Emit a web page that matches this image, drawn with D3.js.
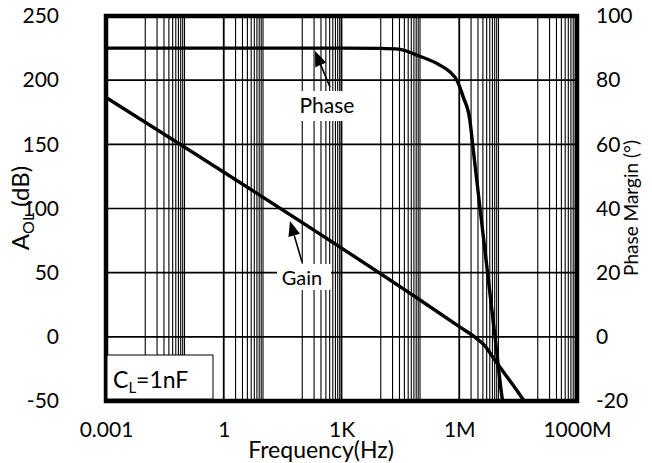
<!DOCTYPE html>
<html>
<head>
<meta charset="utf-8">
<script src="https://cdn.jsdelivr.net/npm/d3@7/dist/d3.min.js"></script>
<style>
  html, body { margin: 0; padding: 0; background: #fff; }
  text { font-family: Lato, "Open Sans", sans-serif; fill: #000; }
</style>
</head>
<body>
<svg id="chart" width="652" height="463"></svg>
<script>
// ---- data ----
const gainFreq = [0.001, 1e5, 1e6, 2.75e6, 4.5e6, 7.4e6, 4.3e7, 4.7e7];
const gainDb   = [186.5, 28.7, 8.0, -1.2, -7.0, -16.5, -49.2, -51];

const phaseFreq = [0.001, 1, 1000, 10000, 31000, 83000, 320000, 575000, 870000,
                   1.26e6, 1.86e6, 2.28e6, 3.38e6, 5.53e6, 8.15e6, 1.26e7, 1.35e7];
const phaseDeg  = [90, 90, 90, 89.9, 89.6, 87.8, 84.7, 82.6, 80,
                   74.8, 67.6, 58.2, 40.1, 17.7, 0, -19.7, -22];

const xTickValues = [0.001, 1, 1e3, 1e6, 1e9];
const xTickLabels = ["0.001", "1", "1K", "1M", "1000M"];
const leftTicks  = [-50, 0, 50, 100, 150, 200, 250];
const rightTicks = [-20, 0, 20, 40, 60, 80, 100];
const decadeExps = [-3, -2, -1, 0, 1, 2, 3, 4, 5, 6, 7, 8, 9];
const denseDecades = [-2, 0, 2, 4, 6, 8];

// ---- layout ----
const L = 106, R = 577, T = 16, B = 401;
const svg = d3.select("#chart");
const x = d3.scaleLog().domain([0.001, 1e9]).range([L, R]);
const yL = d3.scaleLinear().domain([-50, 250]).range([B, T]);
const yR = d3.scaleLinear().domain([-20, 100]).range([B, T]);

svg.append("rect").attr("width", 652).attr("height", 463).attr("fill", "#fff");

// grid: vertical
const vLines = [];
decadeExps.forEach(n => {
  const v = Math.pow(10, n);
  vLines.push({v: v, major: xTickValues.some(t => Math.abs(Math.log10(t) - n) < 1e-9)});
  if (denseDecades.includes(n)) {
    for (let k = 2; k <= 9; k++) vLines.push({v: k * v, major: false});
  }
});
const grid = svg.append("g");
grid.selectAll("line.v").data(vLines).enter().append("line")
  .attr("x1", d => x(d.v)).attr("x2", d => x(d.v))
  .attr("y1", T).attr("y2", B)
  .attr("stroke", "#000").attr("stroke-width", d => d.major ? 1.8 : 1.1);
grid.selectAll("line.h").data(leftTicks).enter().append("line")
  .attr("x1", L).attr("x2", R)
  .attr("y1", d => yL(d)).attr("y2", d => yL(d))
  .attr("stroke", "#000").attr("stroke-width", 1.6);

// label boxes (white) covering grid
svg.append("rect").attr("x", 297).attr("y", 91).attr("width", 60).attr("height", 30).attr("fill", "#fff");
svg.append("rect").attr("x", 277).attr("y", 264).attr("width", 54).attr("height", 26).attr("fill", "#fff");

// curves
svg.append("clipPath").attr("id", "plotclip")
  .append("rect").attr("x", L).attr("y", T).attr("width", R - L).attr("height", B - T);

const gainPts = gainFreq.map((f, i) => [x(f), yL(gainDb[i])]);
const phasePts = phaseFreq.map((f, i) => [x(f), yR(phaseDeg[i])]);
const line = d3.line().curve(d3.curveMonotoneX);
const curves = svg.append("g").attr("clip-path", "url(#plotclip)");
curves.append("path").attr("d", line(gainPts)).attr("fill", "none")
  .attr("stroke", "#000").attr("stroke-width", 3.4).attr("stroke-linejoin", "round");
curves.append("path").attr("d", line(phasePts)).attr("fill", "none")
  .attr("stroke", "#000").attr("stroke-width", 3.4).attr("stroke-linejoin", "round");

// border
svg.append("rect").attr("x", L).attr("y", T).attr("width", R - L).attr("height", B - T)
  .attr("fill", "none").attr("stroke", "#000").attr("stroke-width", 4.5);

// arrows
function arrow(x1, y1, x2, y2) {
  const ang = Math.atan2(y2 - y1, x2 - x1);
  const len = 15, w = 6;
  const bx = x2 - len * Math.cos(ang), by = y2 - len * Math.sin(ang);
  svg.append("line").attr("x1", x1).attr("y1", y1).attr("x2", bx).attr("y2", by)
    .attr("stroke", "#000").attr("stroke-width", 1.6);
  const px = -Math.sin(ang) * w, py = Math.cos(ang) * w;
  svg.append("path")
    .attr("d", `M${x2},${y2}L${bx + px},${by + py}L${bx - px},${by - py}Z`)
    .attr("fill", "#000");
}
arrow(330, 87, 315, 51);
arrow(302, 262, 290, 221);

// annotation texts
svg.append("text").attr("x", 327).attr("y", 113).attr("text-anchor", "middle")
  .attr("font-size", 21).text("Phase");
svg.append("text").attr("x", 302).attr("y", 285).attr("text-anchor", "middle")
  .attr("font-size", 20).text("Gain");

// C_L box
svg.append("rect").attr("x", 107).attr("y", 355).attr("width", 106).attr("height", 44)
  .attr("fill", "#fff").attr("stroke", "#000").attr("stroke-width", 1);
const cl = svg.append("text").attr("x", 113).attr("y", 388).attr("font-size", 23);
cl.append("tspan").text("C");
cl.append("tspan").attr("font-size", 15).attr("dy", 5).text("L");
cl.append("tspan").attr("dy", -5).text("=1nF");

// axes tick labels
const fmt = d => String(d);
const xAxis = d3.axisBottom(x).tickValues(xTickValues)
  .tickFormat((d, i) => xTickLabels[i]).tickSize(0).tickPadding(0);
const gx = svg.append("g").attr("transform", `translate(0,${B})`).call(xAxis);
gx.select(".domain").remove();
gx.selectAll("text").attr("font-size", 21).attr("font-family", "Lato")
  .attr("fill", "#000").attr("dy", null).attr("y", 36);

const gl = svg.append("g").attr("transform", `translate(59,0)`)
  .call(d3.axisLeft(yL).tickValues(leftTicks).tickFormat(fmt).tickSize(0).tickPadding(0));
gl.select(".domain").remove();
gl.selectAll("text").attr("font-size", 21).attr("font-family", "Lato").attr("fill", "#000");

const gr = svg.append("g").attr("transform", `translate(596,0)`)
  .call(d3.axisRight(yR).tickValues(rightTicks).tickFormat(fmt).tickSize(0).tickPadding(0));
gr.select(".domain").remove();
gr.selectAll("text").attr("font-size", 21).attr("font-family", "Lato").attr("fill", "#000");

// axis titles
svg.append("text").attr("x", 321).attr("y", 458).attr("text-anchor", "middle")
  .attr("font-size", 23).text("Frequency(Hz)");

const ta = svg.append("text").attr("transform", "translate(29,208) rotate(-90)")
  .attr("text-anchor", "middle").attr("font-size", 24);
ta.append("tspan").text("A");
ta.append("tspan").attr("font-size", 16).attr("dy", 5).text("OL");
ta.append("tspan").attr("dy", -5).text(" (dB)");

svg.append("text").attr("transform", "translate(638,208) rotate(-90)")
  .attr("text-anchor", "middle").attr("font-size", 19).text("Phase Margin (°)");
</script>
</body>
</html>
